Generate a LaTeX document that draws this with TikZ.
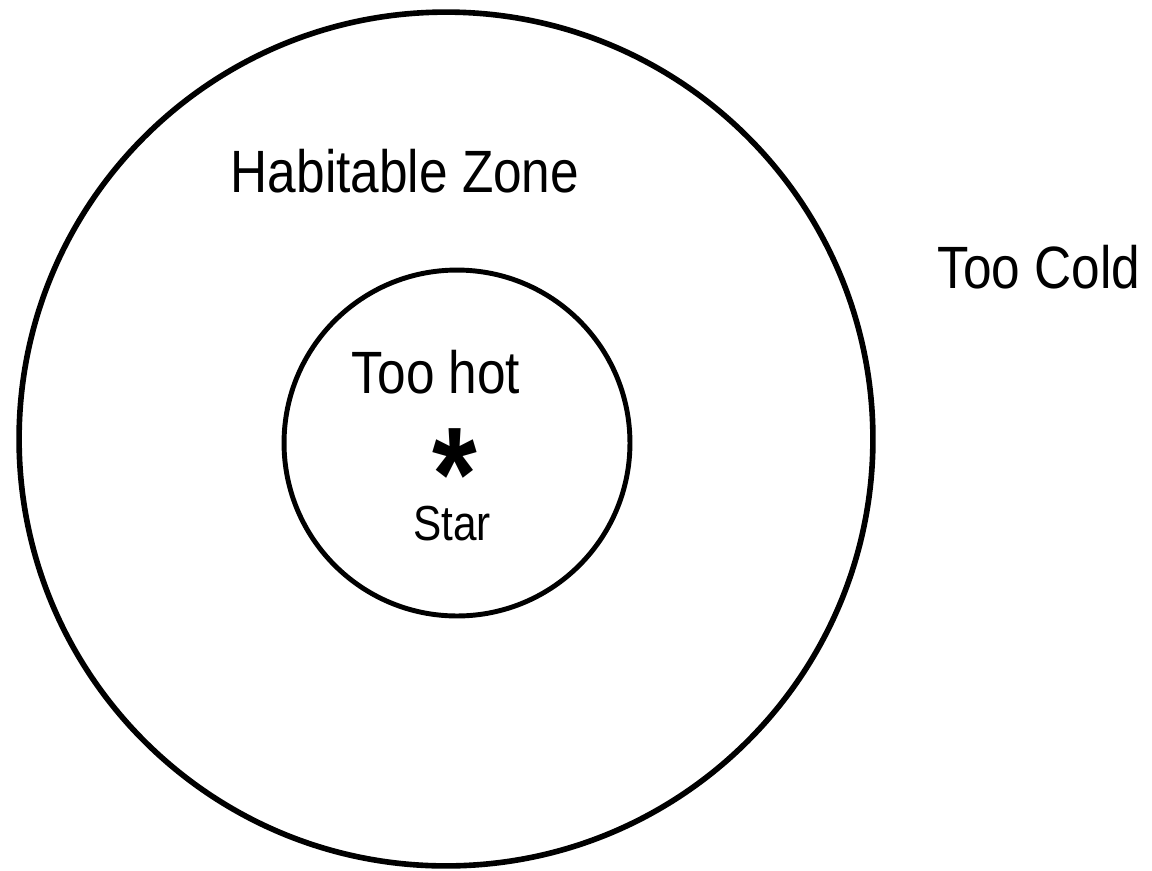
\documentclass[tikz,border=0pt]{standalone}
\usepackage{fontspec}
\setmainfont{Liberation Sans}[FakeStretch=0.86]
\usepackage{tikz}
\usetikzlibrary{positioning}

\begin{document}
\begin{tikzpicture}[
    x=0.02cm, y=-0.02cm,
    zone/.style={circle, draw, inner sep=0pt, line width=3.2pt},
    tag/.style={font=\fontsize{34}{40}\selectfont, anchor=base, inner sep=0pt},
    small/.style={font=\fontsize{28}{32}\selectfont, anchor=base, inner sep=0pt}
]
    \useasboundingbox (0,0) rectangle (1152,870);

    % Zones
    \node[zone, minimum size=17.08cm] (habitable) at (446,439) {};
    \node[zone, minimum size=6.92cm, line width=2.8pt] (hot) at (457,443) {};

    % Labels
    \node[tag] (habtext) at (405,192) {Habitable Zone};
    \node[tag] (hottext) at (436,393) {Too hot};
    \node[tag] (coldtext) at (1039,288) {Too Cold};

    % The star
    \node[font=\fontsize{76}{76}\selectfont\bfseries, inner sep=0pt] (star) at (455,475) {*};
    \node[small] (startext) at (452,540) {Star};
\end{tikzpicture}
\end{document}
